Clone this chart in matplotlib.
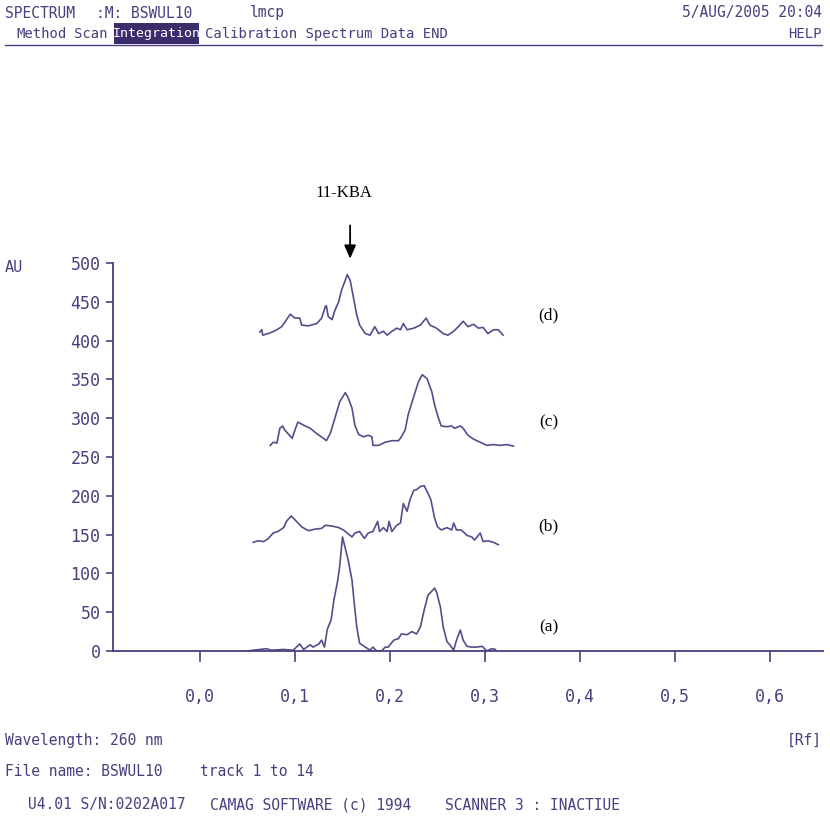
import numpy as np
import matplotlib
matplotlib.use("Agg")
import matplotlib.pyplot as plt

# densitogram tracks (Rf, AU)
rf_a = [0.049, 0.063, 0.070, 0.075, 0.088, 0.098, 0.105, 0.109, 0.116, 0.119, 0.125, 0.128,
        0.131, 0.134, 0.138, 0.141, 0.145, 0.147, 0.150, 0.156, 0.160, 0.162, 0.165, 0.168,
        0.174, 0.179, 0.182, 0.186, 0.191, 0.195, 0.198, 0.204, 0.209, 0.212, 0.218, 0.223,
        0.228, 0.232, 0.236, 0.240, 0.247, 0.249, 0.253, 0.256, 0.260, 0.263, 0.267, 0.270,
        0.274, 0.277, 0.281, 0.286, 0.291, 0.297, 0.302, 0.307, 0.311]
au_a = [0, 2, 3, 1, 2, 1, 9, 2, 8, 5, 9, 14,
        5, 28, 40, 66, 91, 109, 147, 117, 91, 66, 31, 10,
        5, 1, 5, 0, 0, 5, 5, 14, 16, 22, 21, 25,
        22, 31, 53, 72, 81, 76, 57, 31, 12, 8, 1, 14,
        27, 14, 6, 5, 5, 6, 0, 3, 2]

rf_b = [0.056, 0.061, 0.067, 0.072, 0.077, 0.082, 0.088, 0.091, 0.096, 0.100, 0.107, 0.114,
        0.121, 0.128, 0.132, 0.139, 0.146, 0.151, 0.156, 0.160, 0.163, 0.168, 0.173, 0.177,
        0.182, 0.187, 0.189, 0.193, 0.197, 0.199, 0.202, 0.207, 0.211, 0.214, 0.218, 0.221,
        0.225, 0.228, 0.232, 0.236, 0.240, 0.243, 0.247, 0.250, 0.254, 0.260, 0.265, 0.267,
        0.270, 0.275, 0.281, 0.286, 0.289, 0.295, 0.298, 0.303, 0.309, 0.314]
au_b = [140, 142, 141, 145, 152, 154, 159, 167, 174, 169, 160, 155,
        157, 158, 162, 161, 159, 156, 151, 147, 152, 154, 145, 152,
        154, 167, 154, 159, 154, 167, 154, 162, 165, 190, 180, 195,
        207, 208, 212, 213, 203, 195, 171, 160, 156, 159, 156, 165,
        156, 156, 149, 147, 143, 152, 141, 142, 140, 137]

rf_c = [0.074, 0.077, 0.081, 0.084, 0.087, 0.089, 0.097, 0.100, 0.103, 0.109, 0.116, 0.123,
        0.130, 0.133, 0.137, 0.142, 0.147, 0.153, 0.156, 0.160, 0.163, 0.167, 0.172, 0.177,
        0.181, 0.182, 0.188, 0.195, 0.202, 0.209, 0.212, 0.216, 0.219, 0.225, 0.230, 0.234,
        0.239, 0.244, 0.247, 0.251, 0.254, 0.260, 0.265, 0.268, 0.274, 0.277, 0.282, 0.288,
        0.295, 0.302, 0.309, 0.316, 0.323, 0.330]
au_c = [265, 269, 268, 287, 290, 285, 274, 285, 295, 291, 287, 280,
        274, 271, 280, 300, 321, 333, 326, 313, 291, 279, 276, 278,
        276, 265, 265, 269, 271, 271, 276, 285, 304, 328, 347, 356,
        351, 334, 317, 300, 290, 289, 290, 287, 290, 287, 278, 273,
        269, 265, 266, 265, 266, 264]

rf_d = [0.063, 0.065, 0.066, 0.074, 0.081, 0.086, 0.095, 0.100, 0.105, 0.107, 0.114, 0.123,
        0.128, 0.132, 0.133, 0.135, 0.139, 0.142, 0.146, 0.149, 0.153, 0.155, 0.158, 0.161,
        0.165, 0.168, 0.174, 0.179, 0.184, 0.188, 0.193, 0.197, 0.202, 0.207, 0.211, 0.214,
        0.218, 0.225, 0.232, 0.238, 0.242, 0.249, 0.256, 0.261, 0.267, 0.272, 0.277, 0.282,
        0.288, 0.293, 0.298, 0.303, 0.309, 0.314, 0.319]
au_d = [411, 414, 407, 410, 414, 418, 434, 429, 429, 420, 419, 422,
        429, 444, 445, 431, 427, 439, 450, 465, 478, 485, 478, 459,
        433, 420, 409, 407, 418, 409, 412, 407, 412, 416, 414, 422,
        414, 416, 420, 429, 420, 416, 409, 407, 412, 418, 425, 418,
        421, 416, 417, 409, 414, 414, 407]

tracks = [(rf_a, au_a, "(a)", 31), (rf_b, au_b, "(b)", 160),
          (rf_c, au_c, "(c)", 294), (rf_d, au_d, "(d)", 433)]

y_ticks = [0, 50, 100, 150, 200, 250, 300, 350, 400, 450, 500]
x_ticks = [0.0, 0.1, 0.2, 0.3, 0.4, 0.5, 0.6]
x_labels = ["0,0", "0,1", "0,2", "0,3", "0,4", "0,5", "0,6"]

ink = "#4b3d7e"
line_col = "#5a4a8c"
W, H = 830, 816

plt.rcParams['font.family'] = ['DejaVu Sans Mono']

fig = plt.figure(figsize=(W / 100, H / 100), dpi=100)
ax = fig.add_axes([113 / W, 1 - 651 / H, 710 / W, 388 / H])

for rf, au, lab, ly in tracks:
    ax.plot(rf, au, color=line_col, lw=1.2)
    ax.text(0.367, ly, lab, family='Liberation Serif', fontsize=12.5, color='black',
            ha='center', va='center')

ax.set_xlim(-0.0916, 0.6558)
ax.set_ylim(0, 500)
ax.set_yticks(y_ticks)
ax.set_xticks(x_ticks)
ax.set_xticklabels(x_labels)
for s in ['top', 'right']:
    ax.spines[s].set_visible(False)
for s in ['left', 'bottom']:
    ax.spines[s].set_color(ink)
    ax.spines[s].set_linewidth(1.3)
ax.tick_params(axis='y', direction='out', length=5, width=1.2, color=ink,
               labelcolor=ink, labelsize=12, pad=4)
ax.tick_params(axis='x', direction='out', length=8, width=1.2, color=ink,
               labelcolor=ink, labelsize=12, pad=19)

# 11-KBA marker
ax.annotate("", xy=(0.158, 502), xytext=(0.158, 552), annotation_clip=False,
            arrowprops=dict(arrowstyle="-|>,head_width=0.35,head_length=0.8",
                            color='black', lw=1.3))
ax.text(0.152, 590, "11-KBA", family='Liberation Serif', fontsize=12,
        color='black', ha='center', va='center', clip_on=False)


def put(x, y, s, **kw):
    fig.text(x / W, 1 - y / H, s, color=kw.pop('color', ink),
             fontsize=kw.pop('fontsize', 10.5), va='center', **kw)


# screen header
put(5, 13, "SPECTRUM")
put(96, 13, ":M: BSWUL10")
put(250, 13, "lmcp")
put(822, 13, "5/AUG/2005 20:04", ha='right')
put(16, 34, "Method", fontsize=10)
put(74, 34, "Scan", fontsize=10)
fig.add_artist(plt.Rectangle((114 / W, 1 - 44 / H), 85 / W, 21 / H,
                             transform=fig.transFigure, fc='#3b2d6c', ec='none'))
put(156.5, 34, "Integration", color='white', ha='center', fontsize=9.5)
put(205, 34, "Calibration Spectrum Data END", fontsize=10)
put(822, 34, "HELP", ha='right', fontsize=10)
fig.add_artist(plt.Line2D([5 / W, 822 / W], [1 - 45 / H, 1 - 45 / H],
                          color=ink, lw=1.0))

put(5, 268, "AU", fontsize=11)

# footer
put(5, 740, "Wavelength: 260 nm")
put(822, 740, "[Rf]", ha='right')
put(5, 772, "File name: BSWUL10")
put(200, 772, "track 1 to 14")
put(28, 805, "U4.01 S/N:0202A017")
put(210, 805, "CAMAG SOFTWARE (c) 1994")
put(445, 805, "SCANNER 3 : INACTIUE")

fig.savefig("out.png", dpi=100)
